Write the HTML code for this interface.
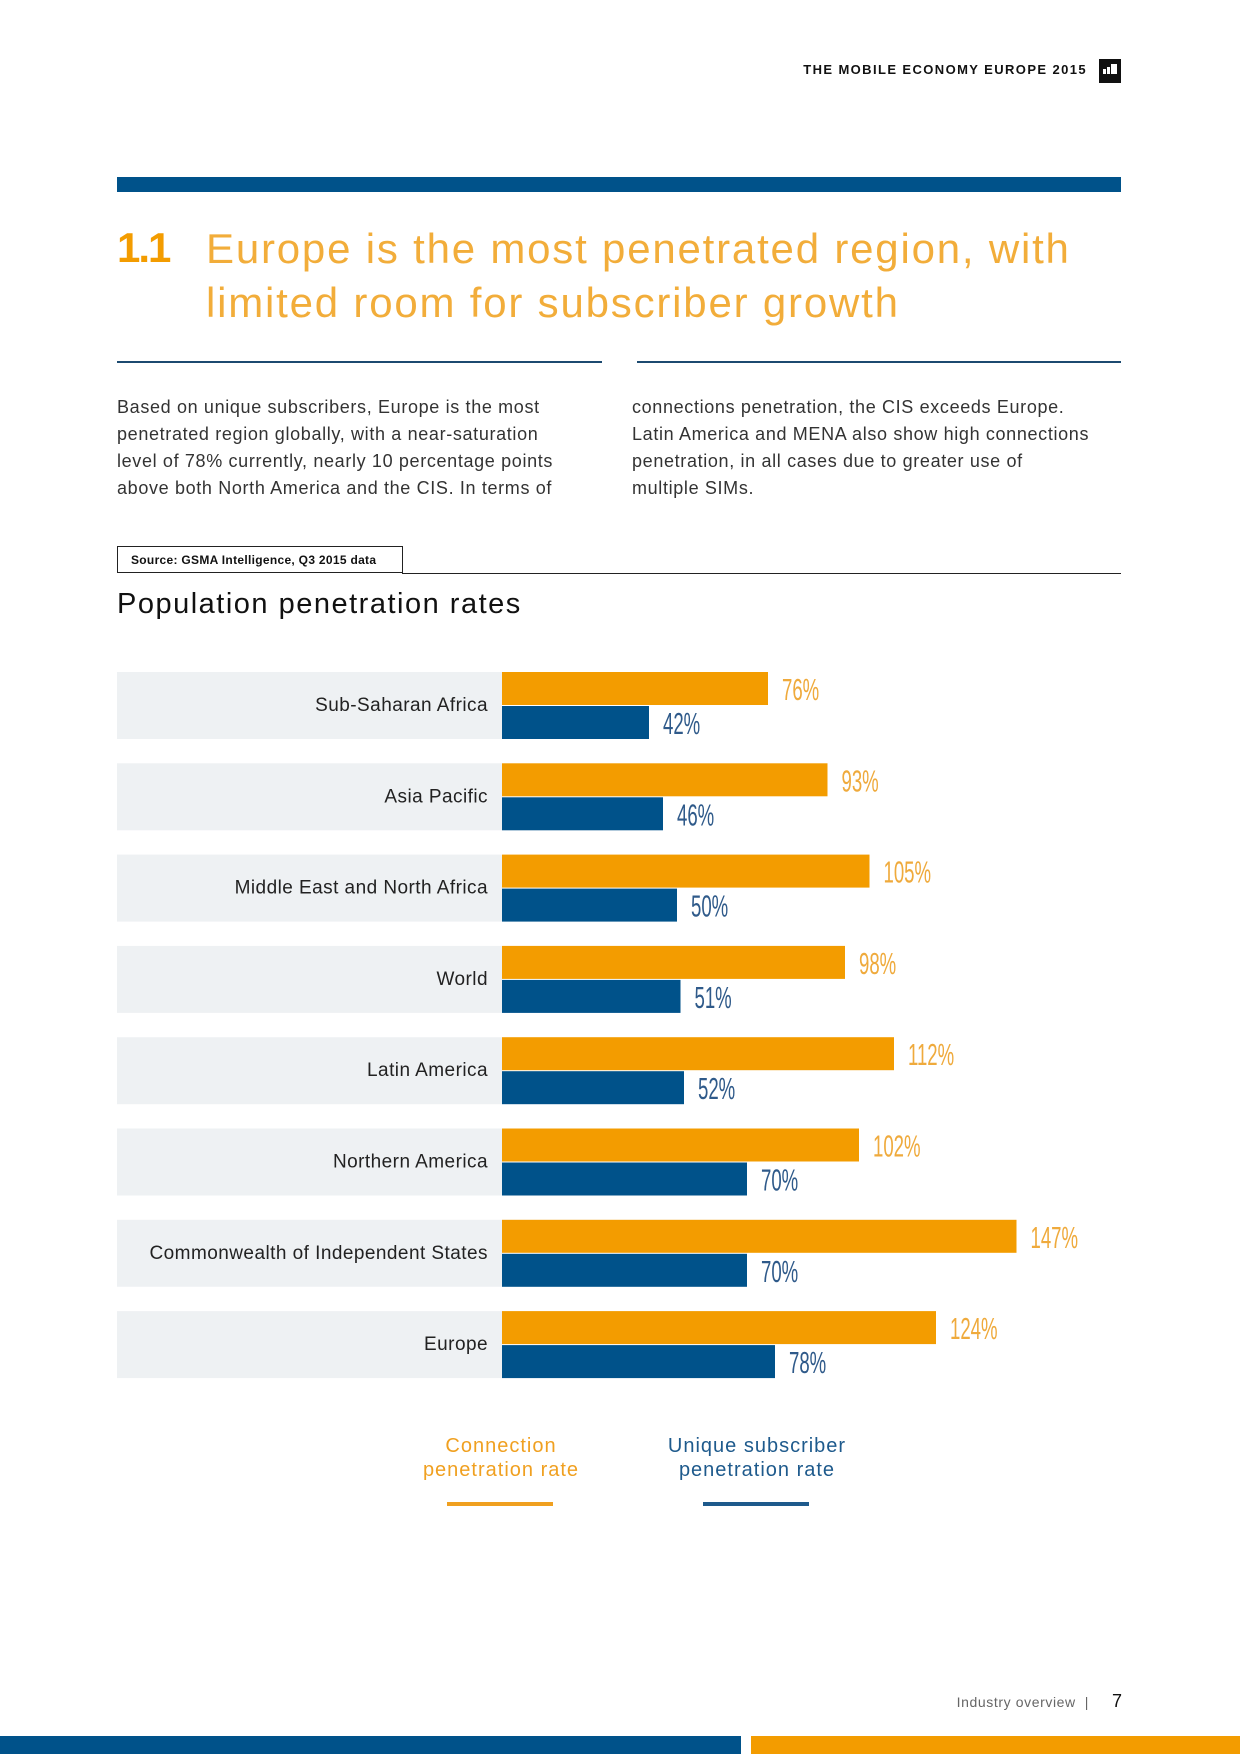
<!DOCTYPE html>
<html><head><meta charset="utf-8"><style>
body{margin:0;width:1240px;height:1754px;position:relative;background:#fff;font-family:"Liberation Sans",sans-serif;overflow:hidden}
.a{position:absolute;margin:0}
p.a{font-size:18px;line-height:27px;color:#333;white-space:nowrap;letter-spacing:0.65px}
</style></head><body>
<div class="a" style="right:153px;top:62px;font-size:13px;font-weight:bold;color:#111;letter-spacing:1.4px">THE MOBILE ECONOMY EUROPE 2015</div>
<div class="a" style="left:1099px;top:59px;width:22px;height:24px;background:#111"><div style="position:absolute;left:4px;top:10px;width:3px;height:5px;background:#fff"></div><div style="position:absolute;left:8px;top:8px;width:3px;height:7px;background:#fff"></div><div style="position:absolute;left:12px;top:5px;width:6px;height:10px;background:#fff"></div></div>
<div class="a" style="left:117px;top:177px;width:1004px;height:15px;background:#00528a"></div>
<div class="a" style="left:117px;top:224px;font-size:42px;font-weight:bold;color:#f39c00;letter-spacing:-2px">1.1</div>
<div class="a" style="left:206px;top:222px;font-size:42px;line-height:54px;color:#f2ad3a;white-space:nowrap;letter-spacing:1.8px">Europe is the most penetrated region, with<br>limited room for subscriber growth</div>
<div class="a" style="left:117px;top:361px;width:485px;height:2px;background:#1c4a70"></div>
<div class="a" style="left:637px;top:361px;width:484px;height:2px;background:#1c4a70"></div>
<p class="a" style="left:117px;top:394px">Based on unique subscribers, Europe is the most<br>penetrated region globally, with a near-saturation<br>level of 78% currently, nearly 10 percentage points<br>above both North America and the CIS. In terms of</p>
<p class="a" style="left:632px;top:394px">connections penetration, the CIS exceeds Europe.<br>Latin America and MENA also show high connections<br>penetration, in all cases due to greater use of<br>multiple SIMs.</p>
<div class="a" style="left:117px;top:546px;width:286px;height:27px;border:1px solid #222;font-size:12px;font-weight:bold;line-height:27px;box-sizing:border-box;padding-left:13px;color:#111;letter-spacing:0.3px">Source: GSMA Intelligence, Q3 2015 data</div>
<div class="a" style="left:402px;top:573px;width:719px;height:1px;background:#222"></div>
<div class="a" style="left:117px;top:588px;font-size:29px;color:#111;letter-spacing:1.5px">Population penetration rates</div>
<svg class="a" style="left:0;top:0" width="1240" height="1754" id="chart"></svg>
<div class="a" style="left:391px;top:1434px;width:220px;text-align:center;font-size:20px;line-height:24px;color:#f0a020;letter-spacing:1px">Connection<br>penetration rate</div>
<div class="a" style="left:447px;top:1502px;width:106px;height:4px;background:#f0a020"></div>
<div class="a" style="left:647px;top:1434px;width:220px;text-align:center;font-size:20px;line-height:24px;color:#1e5a8c;letter-spacing:1px">Unique subscriber<br>penetration rate</div>
<div class="a" style="left:703px;top:1502px;width:106px;height:4px;background:#1e5a8c"></div>
<div class="a" style="right:151px;top:1694px;font-size:14px;color:#666;letter-spacing:0.6px">Industry overview &nbsp;|</div>
<div class="a" style="left:1112px;top:1691px;font-size:18px;color:#111">7</div>
<div class="a" style="left:0;top:1736px;width:741px;height:18px;background:#00528a"></div>
<div class="a" style="left:751px;top:1736px;width:489px;height:18px;background:#f39c00"></div>
<script>
const categories=["Sub-Saharan Africa","Asia Pacific","Middle East and North Africa","World","Latin America","Northern America","Commonwealth of Independent States","Europe"];
const connectionValues=[76,93,105,98,112,102,147,124];
const uniqueValues=[42,46,50,51,52,70,70,78];
const NS="http://www.w3.org/2000/svg";
const svg=document.getElementById('chart');
const x0=502,pxPer=3.5,y0=672,pitch=91.3,barH=33;
function xs(v){return x0+v*pxPer;}
function rowY(i){return y0+i*pitch;}
function mk(t,a){const e=document.createElementNS(NS,t);for(const k in a)e.setAttribute(k,a[k]);svg.appendChild(e);return e;}
categories.forEach((c,i)=>{
  const y=rowY(i);
  const bg=mk('rect',{x:117,y:y,width:385,height:barH*2+1,fill:'#eef1f3'});
  
  
  const lb=mk('text',{x:488,y:y+barH+6,'text-anchor':'end','font-size':19,fill:'#222','letter-spacing':0.45,'font-family':'Liberation Sans, sans-serif'});
  lb.textContent=c;
  
  
  const b1=mk('rect',{x:x0,y:y,width:xs(connectionValues[i])-x0,height:barH,fill:'#f39c00'});
  
  
  const b2=mk('rect',{x:x0,y:y+barH+1,width:xs(uniqueValues[i])-x0,height:barH,fill:'#00528a'});
  
  
  const cx=xs(connectionValues[i])+14, ux=xs(uniqueValues[i])+14;
  const t1=mk('text',{x:cx,y:y+28,'font-size':31,fill:'#efaa3c','font-family':'Liberation Sans Narrow, Liberation Sans, sans-serif',transform:`translate(${cx},0) scale(0.6,1) translate(${-cx},0)`});
  t1.textContent=connectionValues[i]+'%';
  
  
  const t2=mk('text',{x:ux,y:y+barH+29,'font-size':31,fill:'#2f5a8a','font-family':'Liberation Sans Narrow, Liberation Sans, sans-serif',transform:`translate(${ux},0) scale(0.6,1) translate(${-ux},0)`});
  t2.textContent=uniqueValues[i]+'%';
  
  
});
</script>
</body></html>
